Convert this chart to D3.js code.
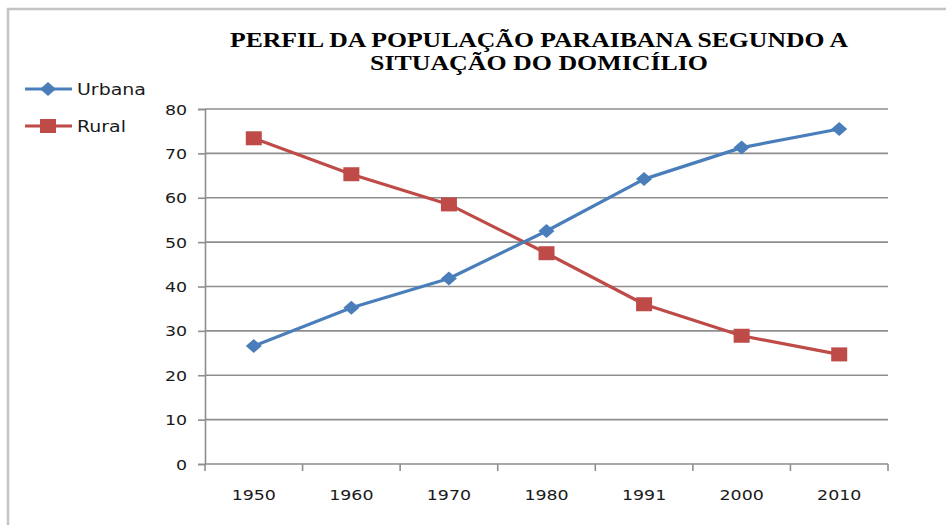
<!DOCTYPE html>
<html>
<head>
<meta charset="utf-8">
<script src="https://cdn.jsdelivr.net/npm/d3@7"></script>
<style>
  body { margin: 0; background: #fff; }
  svg { display: block; }
</style>
</head>
<body>
<script>
const WIDTH = 946;
const HEIGHT = 525;

const years = ["1950", "1960", "1970", "1980", "1991", "2000", "2010"];
const urbana = [26.6, 35.2, 41.8, 52.5, 64.2, 71.3, 75.5];
const rural = [73.4, 65.3, 58.5, 47.5, 36.0, 28.9, 24.7];
const yTicks = [0, 10, 20, 30, 40, 50, 60, 70, 80];
const titleLines = ["PERFIL DA POPULAÇÃO PARAIBANA SEGUNDO A", "SITUAÇÃO DO DOMICÍLIO"];
const seriesNames = ["Urbana", "Rural"];

const BLUE = "#4a7ebb";
const RED = "#be4b48";
const GRID = "#8e8e8e";
const STRETCH = 1.2;   // the source picture is a bit wider than tall

const LEFT = 205, RIGHT = 888, TOP = 109, BOTTOM = 464;

const svg = d3.select("body").append("svg")
  .attr("width", WIDTH)
  .attr("height", HEIGHT);

// outer frame (only top and left edges show)
svg.append("path")
  .attr("d", "M8,525 V9 H946")
  .attr("fill", "none")
  .attr("stroke", "#c4c4c4")
  .attr("stroke-width", 2.5);

//scales
const xScale = d3.scaleBand().domain(years).range([LEFT, RIGHT]);
const yScale = d3.scaleLinear().domain([0, 80]).range([BOTTOM, TOP]);
const cx = d => xScale(d) + xScale.bandwidth() / 2;

// title
svg.append("text")
  .attr("x", 539).attr("y", 47)
  .attr("text-anchor", "middle")
  .attr("textLength", 618)
  .attr("lengthAdjust", "spacingAndGlyphs")
  .style("font", "bold 21px 'Liberation Serif', serif")
  .text(titleLines[0]);
svg.append("text")
  .attr("x", 539).attr("y", 69.5)
  .attr("text-anchor", "middle")
  .attr("textLength", 338)
  .attr("lengthAdjust", "spacingAndGlyphs")
  .style("font", "bold 21px 'Liberation Serif', serif")
  .text(titleLines[1]);

// gridlines
svg.append("g")
  .selectAll("line")
  .data(yTicks.slice(1))
  .enter().append("line")
  .attr("x1", LEFT).attr("x2", RIGHT)
  .attr("y1", d => yScale(d)).attr("y2", d => yScale(d))
  .attr("stroke", GRID)
  .attr("stroke-width", 1.6);

//the axis
const yAxis = d3.axisLeft(yScale).tickValues(yTicks).tickSize(7).tickPadding(11);
const xAxis = d3.axisBottom(xScale).tickSize(0).tickPadding(26);

const gy = svg.append("g")
  .attr("transform", "translate(" + LEFT + ",0)")
  .call(yAxis);
const gx = svg.append("g")
  .attr("transform", "translate(0," + BOTTOM + ")")
  .call(xAxis);

// x ticks sit on the band edges
gx.append("g")
  .selectAll("line")
  .data(years.concat(["end"]))
  .enter().append("line")
  .attr("x1", (d, i) => i < years.length ? xScale(d) : RIGHT)
  .attr("x2", (d, i) => i < years.length ? xScale(d) : RIGHT)
  .attr("y1", 0).attr("y2", 7)
  .attr("stroke", GRID)
  .attr("stroke-width", 1.6);

[gx, gy].forEach(g => {
  g.selectAll(".domain, .tick line")
    .attr("stroke", GRID)
    .attr("stroke-width", 1.6);
  g.selectAll("text")
    .style("font-family", "'DejaVu Sans', sans-serif")
    .style("font-size", "14.5px")
    .attr("fill", "#1a1a1a");
});
gx.select(".domain").attr("d", "M" + LEFT + ",0H" + RIGHT);
gx.selectAll(".tick text").attr("transform", "scale(" + STRETCH + ",1)")
  .attr("x", 0);
gy.selectAll(".tick text")
  .attr("x", -18 / STRETCH)
  .attr("dy", "0.35em")
  .attr("transform", "scale(" + STRETCH + ",1)");

// lines
const line = d3.line()
  .x((d, i) => cx(years[i]))
  .y(d => yScale(d));

const diamond = (x, y) => "M" + x + "," + (y - 7) + "L" + (x + 8) + "," + y + "L" + x + "," + (y + 7) + "L" + (x - 8) + "," + y + "Z";

const drawSeries = (values, color, marker) => {
  svg.append("path")
    .datum(values)
    .attr("d", line)
    .attr("fill", "none")
    .attr("stroke", color)
    .attr("stroke-width", 3.2)
    .attr("stroke-linejoin", "round");

  const g = svg.append("g");
  if (marker === "diamond") {
    g.selectAll("path").data(values).enter().append("path")
      .attr("d", (d, i) => diamond(cx(years[i]), yScale(d)))
      .attr("fill", color);
  } else {
    g.selectAll("rect").data(values).enter().append("rect")
      .attr("x", (d, i) => cx(years[i]) - 8)
      .attr("y", d => yScale(d) - 7)
      .attr("width", 16).attr("height", 14)
      .attr("fill", color);
  }
};

drawSeries(rural, RED, "square");
drawSeries(urbana, BLUE, "diamond");

// legend
const legend = svg.append("g");
const legendY = [89, 126];
const legendColors = [BLUE, RED];
seriesNames.forEach((name, i) => {
  const y = legendY[i];
  legend.append("line")
    .attr("x1", 25).attr("x2", 72)
    .attr("y1", y).attr("y2", y)
    .attr("stroke", legendColors[i])
    .attr("stroke-width", 3.2);
  if (i === 0) {
    legend.append("path").attr("d", diamond(48, y)).attr("fill", legendColors[i]);
  } else {
    legend.append("rect")
      .attr("x", 40).attr("y", y - 7)
      .attr("width", 16).attr("height", 14)
      .attr("fill", legendColors[i]);
  }
  legend.append("text")
    .attr("x", 77 / STRETCH).attr("y", y)
    .attr("dy", "0.35em")
    .attr("transform", "scale(" + STRETCH + ",1)")
    .style("font-family", "'DejaVu Sans', sans-serif")
    .style("font-size", "15.8px")
    .attr("fill", "#1a1a1a")
    .text(name);
});
</script>
</body>
</html>
